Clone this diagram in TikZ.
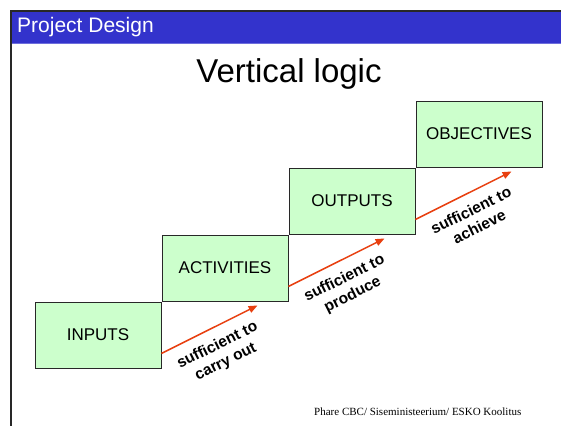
\documentclass[tikz,border=0pt]{standalone}
\usepackage{fontspec}
\setmainfont{Liberation Sans}
\newfontfamily\footerfont{Liberation Serif}
\usetikzlibrary{calc,arrows.meta}
\definecolor{barblue}{RGB}{51,51,204}
\definecolor{baredge}{RGB}{110,110,220}
\definecolor{boxgreen}{RGB}{204,255,204}
\definecolor{arrowred}{RGB}{232,64,16}
\definecolor{framegray}{RGB}{40,40,40}
\begin{document}
\begin{tikzpicture}[x=1pt,y=-1pt,
  levelbox/.style={draw=framegray,line width=0.9pt,fill=boxgreen,
    minimum width=126pt,minimum height=66pt,inner sep=0pt,
    font=\fontsize{17}{20}\selectfont},
  stepline/.style={draw=arrowred,line width=1.5pt,
    -{Triangle[length=9pt,width=7pt]}},
  steplabel/.style={font=\fontsize{15.5}{18.5}\selectfont\bfseries,
    align=center,inner sep=0pt,sloped,midway,below=10pt}]
  \useasboundingbox (0,0) rectangle (561,426);
  \fill[white] (0,0) rectangle (561,426);

  % slide header
  \fill[barblue] (11,11) rectangle (561,43);
  \draw[baredge,line width=0.8pt] (11,43) -- (561,43);
  \draw[framegray,line width=1.4pt] (561,11) -- (11,11) -- (11,426);
  \node[anchor=west,text=white,font=\fontsize{21}{24}\selectfont,inner sep=0pt]
    (header) at (17,27.5) {Project Design};
  \node[anchor=base,font=\fontsize{33}{38}\selectfont,inner sep=0pt]
    (title) at (289,82) {Vertical logic};

  % the four levels
  \node[levelbox] (inputs)     at (98,335)  {INPUTS};
  \node[levelbox] (activities) at (225,268) {ACTIVITIES};
  \node[levelbox] (outputs)    at (352,201) {OUTPUTS};
  \node[levelbox] (objectives) at (479,134) {OBJECTIVES};

  % connector end points
  \coordinate (s1) at ($(inputs.south east)+(0,-15)$);
  \coordinate (t1) at ($(activities.south west)+(96,4)$);
  \coordinate (s2) at ($(activities.south east)+(0,-15)$);
  \coordinate (t2) at ($(outputs.south west)+(96,4)$);
  \coordinate (s3) at ($(outputs.south east)+(0,-15)$);
  \coordinate (t3) at ($(objectives.south west)+(96,4)$);

  \draw[stepline] (s1) -- node[steplabel] {sufficient to\\carry out} (t1);
  \draw[stepline] (s2) -- node[steplabel] {sufficient to\\produce} (t2);
  \draw[stepline] (s3) -- node[steplabel] {sufficient to\\achieve} (t3);

  % footer
  \node[anchor=west,font=\footerfont\fontsize{11}{13}\selectfont,inner sep=0pt]
    (footer) at (314,412) {Phare CBC/ Siseministeerium/ ESKO Koolitus};
\end{tikzpicture}
\end{document}
